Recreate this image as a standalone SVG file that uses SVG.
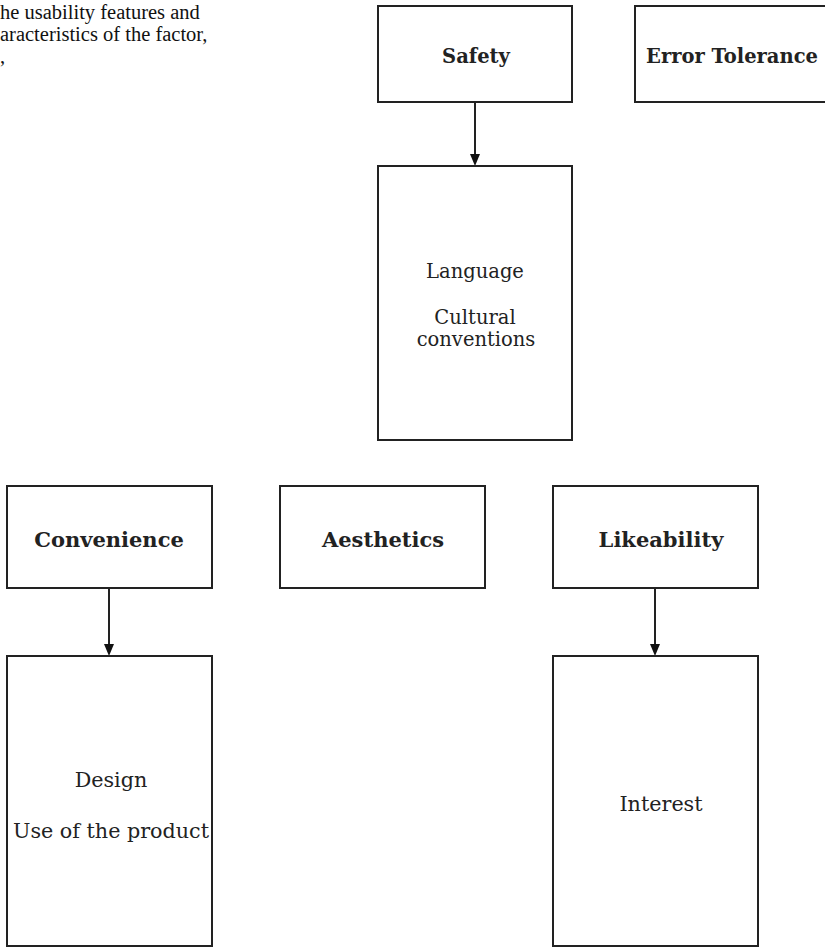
<svg xmlns="http://www.w3.org/2000/svg" width="825" height="948" viewBox="0 0 825 948">
<style>
.box{fill:#fff;stroke:#222;stroke-width:2}
.t{font-family:"DejaVu Serif",serif;fill:#222;text-anchor:middle}
.bt{font-weight:bold;font-size:19.5px}
.bb{font-weight:bold;font-size:21px}
.rl{font-size:19.5px}
.rb{font-size:20.7px}
.note{font-family:"Liberation Serif",serif;font-size:20.5px;fill:#111}
.edge{stroke:#222;stroke-width:2;fill:none}
.head{fill:#111}
</style>
<rect width="825" height="948" fill="#fff"/>
<g id="note">
<text class="note" x="0" y="19">he usability features and</text>
<text class="note" x="0" y="41">aracteristics of the factor,</text>
<text class="note" x="0" y="63">,</text>
</g>
<g id="connectors">
<line class="edge" x1="475" y1="102" x2="475" y2="155"/>
<path class="head" d="M470,154 L480,154 L475,166 Z"/>
<line class="edge" x1="109" y1="589" x2="109" y2="645"/>
<path class="head" d="M104,644 L114,644 L109,656 Z"/>
<line class="edge" x1="655" y1="589" x2="655" y2="645"/>
<path class="head" d="M650,644 L660,644 L655,656 Z"/>
</g>
<g id="safety">
<rect class="box" x="378" y="6" width="194" height="96"/>
<text class="t bt" x="476" y="63">Safety</text>
</g>
<g id="error-tolerance">
<rect class="box" x="635" y="6" width="200" height="96"/>
<text class="t bt" x="732" y="63">Error Tolerance</text>
</g>
<g id="language">
<rect class="box" x="378" y="166" width="194" height="274"/>
<text class="t rl" x="475" y="278">Language</text>
<text class="t rl" x="475" y="324">Cultural</text>
<text class="t rl" x="476" y="346">conventions</text>
</g>
<g id="convenience">
<rect class="box" x="7" y="486" width="205" height="102"/>
<text class="t bb" x="109" y="547">Convenience</text>
</g>
<g id="aesthetics">
<rect class="box" x="280" y="486" width="205" height="102"/>
<text class="t bb" x="383" y="547">Aesthetics</text>
</g>
<g id="likeability">
<rect class="box" x="553" y="486" width="205" height="102"/>
<text class="t bb" x="661" y="547">Likeability</text>
</g>
<g id="design">
<rect class="box" x="7" y="656" width="205" height="290"/>
<text class="t rb" x="111" y="787">Design</text>
<text class="t rb" x="111" y="838">Use of the product</text>
</g>
<g id="interest">
<rect class="box" x="553" y="656" width="205" height="290"/>
<text class="t rb" x="661" y="811">Interest</text>
</g>
</svg>
